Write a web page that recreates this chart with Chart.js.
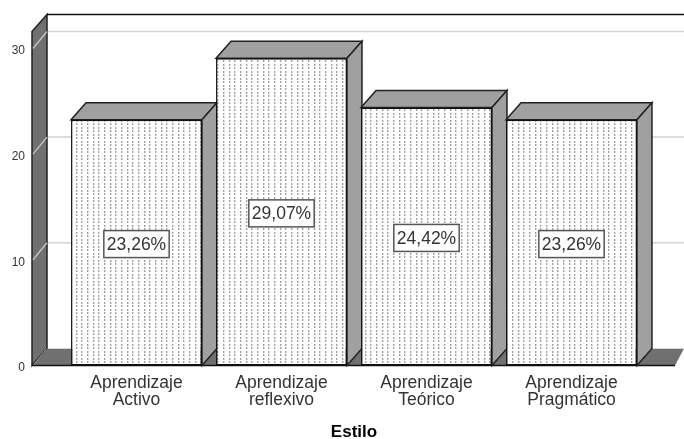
<!DOCTYPE html>
<html>
<head>
<meta charset="utf-8">
<title>Estilo</title>
<script src="https://cdn.jsdelivr.net/npm/chart.js@4"></script>
<style>
  body { margin: 0; background: #fff; }
  canvas { display: block; }
</style>
</head>
<body>
<canvas id="bar-chart" width="684" height="439"></canvas>
<script>
// Values
var categories = [["Aprendizaje", "Activo"], ["Aprendizaje", "reflexivo"], ["Aprendizaje", "Teórico"], ["Aprendizaje", "Pragmático"]];
var percentages = [23.26, 29.07, 24.42, 23.26];
var yTicks = [0, 10, 20, 30];
var xTitle = "Estilo";

// depth of the fake 3D box
var depthX = 15;
var depthY = 17;

// dotted fill of the bars
function dotPattern() {
    var c = document.createElement("canvas");
    c.width = 17;
    c.height = 7;
    var g = c.getContext("2d");
    g.fillStyle = "#fff";
    g.fillRect(0, 0, 17, 7);
    [2, 8, 13].forEach(function (x) {
        g.fillStyle = "#a0a0a0";
        g.fillRect(x, 1, 1, 2);
        g.fillRect(x, 4, 1, 2);
        g.fillStyle = "#dcdcdc";
        g.fillRect(x + 1, 1, 1, 2);
        g.fillRect(x + 1, 4, 1, 2);
    });
    return g.createPattern(c, "repeat");
}

function poly(ctx, pts, fill, stroke, lineWidth) {
    ctx.beginPath();
    ctx.moveTo(pts[0][0], pts[0][1]);
    for (var i = 1; i < pts.length; i++) {
        ctx.lineTo(pts[i][0], pts[i][1]);
    }
    if (fill) {
        ctx.closePath();
        ctx.fillStyle = fill;
        ctx.fill();
    }
    if (stroke) {
        ctx.strokeStyle = stroke;
        ctx.lineWidth = lineWidth || 2;
        ctx.stroke();
    }
}

var box3d = {
    id: "box3d",
    beforeDatasetsDraw: function (chart) {
        var ctx = chart.ctx;
        var y = chart.scales.y;
        var bottom = chart.chartArea.bottom;
        var top = chart.chartArea.top;
        var wallL = 32;
        var wallR = wallL + depthX;
        var w = chart.width;
        ctx.save();

        // back grid lines
        yTicks.forEach(function (t) {
            if (t === 0) return;
            poly(ctx, [[wallR, y.getPixelForValue(t) - depthY], [w, y.getPixelForValue(t) - depthY]], null, "#d2d2d2", 1.5);
        });

        // floor
        poly(ctx, [[wallL, bottom], [wallR, bottom - depthY], [w, bottom - depthY], [w - 9, bottom]], "#707070");
        poly(ctx, [[wallR, bottom - depthY], [w, bottom - depthY]], null, "#d2d2d2", 1);

        // left wall
        poly(ctx, [[wallL, top], [wallR, top - depthY], [wallR, bottom - depthY], [wallL, bottom]], "#707070", "#222", 1.5);
        yTicks.forEach(function (t) {
            if (t === 0) return;
            var py = y.getPixelForValue(t);
            poly(ctx, [[wallL + 1, py], [wallR, py - depthY]], null, "#c0c0c0", 1.5);
        });
        poly(ctx, [[wallL + 1, bottom], [wallR, bottom - depthY]], null, "#a0a0a0", 1);

        // top edge and bottom edge
        poly(ctx, [[wallR, top - depthY], [w, top - depthY]], null, "#111", 1.5);
        poly(ctx, [[wallL, bottom], [w - 9, bottom]], null, "#111", 1.5);

        // bar tops and sides
        chart.getDatasetMeta(0).data.forEach(function (bar) {
            var l = bar.x - bar.width / 2;
            var r = bar.x + bar.width / 2;
            poly(ctx, [[l, bar.y], [l + depthX, bar.y - depthY], [r + depthX, bar.y - depthY], [r, bar.y]], "#a0a0a0", "#222", 1.5);
            poly(ctx, [[r, bar.y], [r + depthX, bar.y - depthY], [r + depthX, bar.base - depthY], [r, bar.base]], "#a0a0a0", "#222", 1.5);
        });
        ctx.restore();
    },
    afterDatasetsDraw: function (chart) {
        var ctx = chart.ctx;
        ctx.save();
        ctx.font = "17.5px 'Liberation Sans', Arial, sans-serif";
        ctx.textAlign = "center";
        ctx.textBaseline = "middle";
        chart.getDatasetMeta(0).data.forEach(function (bar, i) {
            var text = percentages[i].toFixed(2).replace(".", ",") + "%";
            var cy = (bar.y + bar.base) / 2 + 1.5;
            var bw = ctx.measureText(text).width + 6;
            var bh = 27;
            ctx.fillStyle = "#fff";
            ctx.fillRect(bar.x - bw / 2, cy - bh / 2, bw, bh);
            ctx.strokeStyle = "#555";
            ctx.lineWidth = 1.5;
            ctx.strokeRect(bar.x - bw / 2, cy - bh / 2, bw, bh);
            ctx.fillStyle = "#333";
            ctx.fillText(text, bar.x, cy + 1);
        });
        ctx.restore();
    }
};

new Chart(document.getElementById("bar-chart"), {
    type: "bar",
    data: {
        labels: categories,
        datasets: [{
            data: percentages,
            backgroundColor: dotPattern(),
            borderColor: "#111",
            borderWidth: 1.5,
            borderSkipped: false,
            categoryPercentage: 1,
            barPercentage: 0.903
        }]
    },
    plugins: [box3d],
    options: {
        responsive: false,
        animation: false,
        layout: { padding: { top: 31.5, right: 40, left: 0, bottom: 0 } },
        plugins: {
            legend: { display: false },
            tooltip: { enabled: false }
        },
        scales: {
            x: {
                grid: { display: false, drawTicks: false },
                border: { display: false },
                ticks: {
                    color: "#333",
                    padding: 9,
                    maxRotation: 0,
                    font: { family: "'Liberation Sans', Arial, sans-serif", size: 17.5, lineHeight: 0.98 }
                },
                title: {
                    display: true,
                    text: xTitle,
                    color: "#000",
                    padding: { top: 0, bottom: -4 },
                    font: { family: "'Liberation Sans', Arial, sans-serif", size: 17, weight: "bold" }
                },
                afterFit: function (scale) { scale.height = 73.5; }
            },
            y: {
                min: 0,
                max: 31.6,
                grid: { display: false, drawTicks: false },
                border: { display: false },
                ticks: {
                    stepSize: 10,
                    includeBounds: false,
                    color: "#333",
                    padding: 39,
                    labelOffset: 2.5,
                    font: { family: "'Liberation Sans', Arial, sans-serif", size: 12 }
                },
                // the big tick padding must not push the plot area down
                afterFit: function (scale) {
                    scale.width = 64;
                    scale.paddingTop = 0;
                    scale.paddingBottom = 0;
                }
            }
        }
    }
});
</script>
</body>
</html>
